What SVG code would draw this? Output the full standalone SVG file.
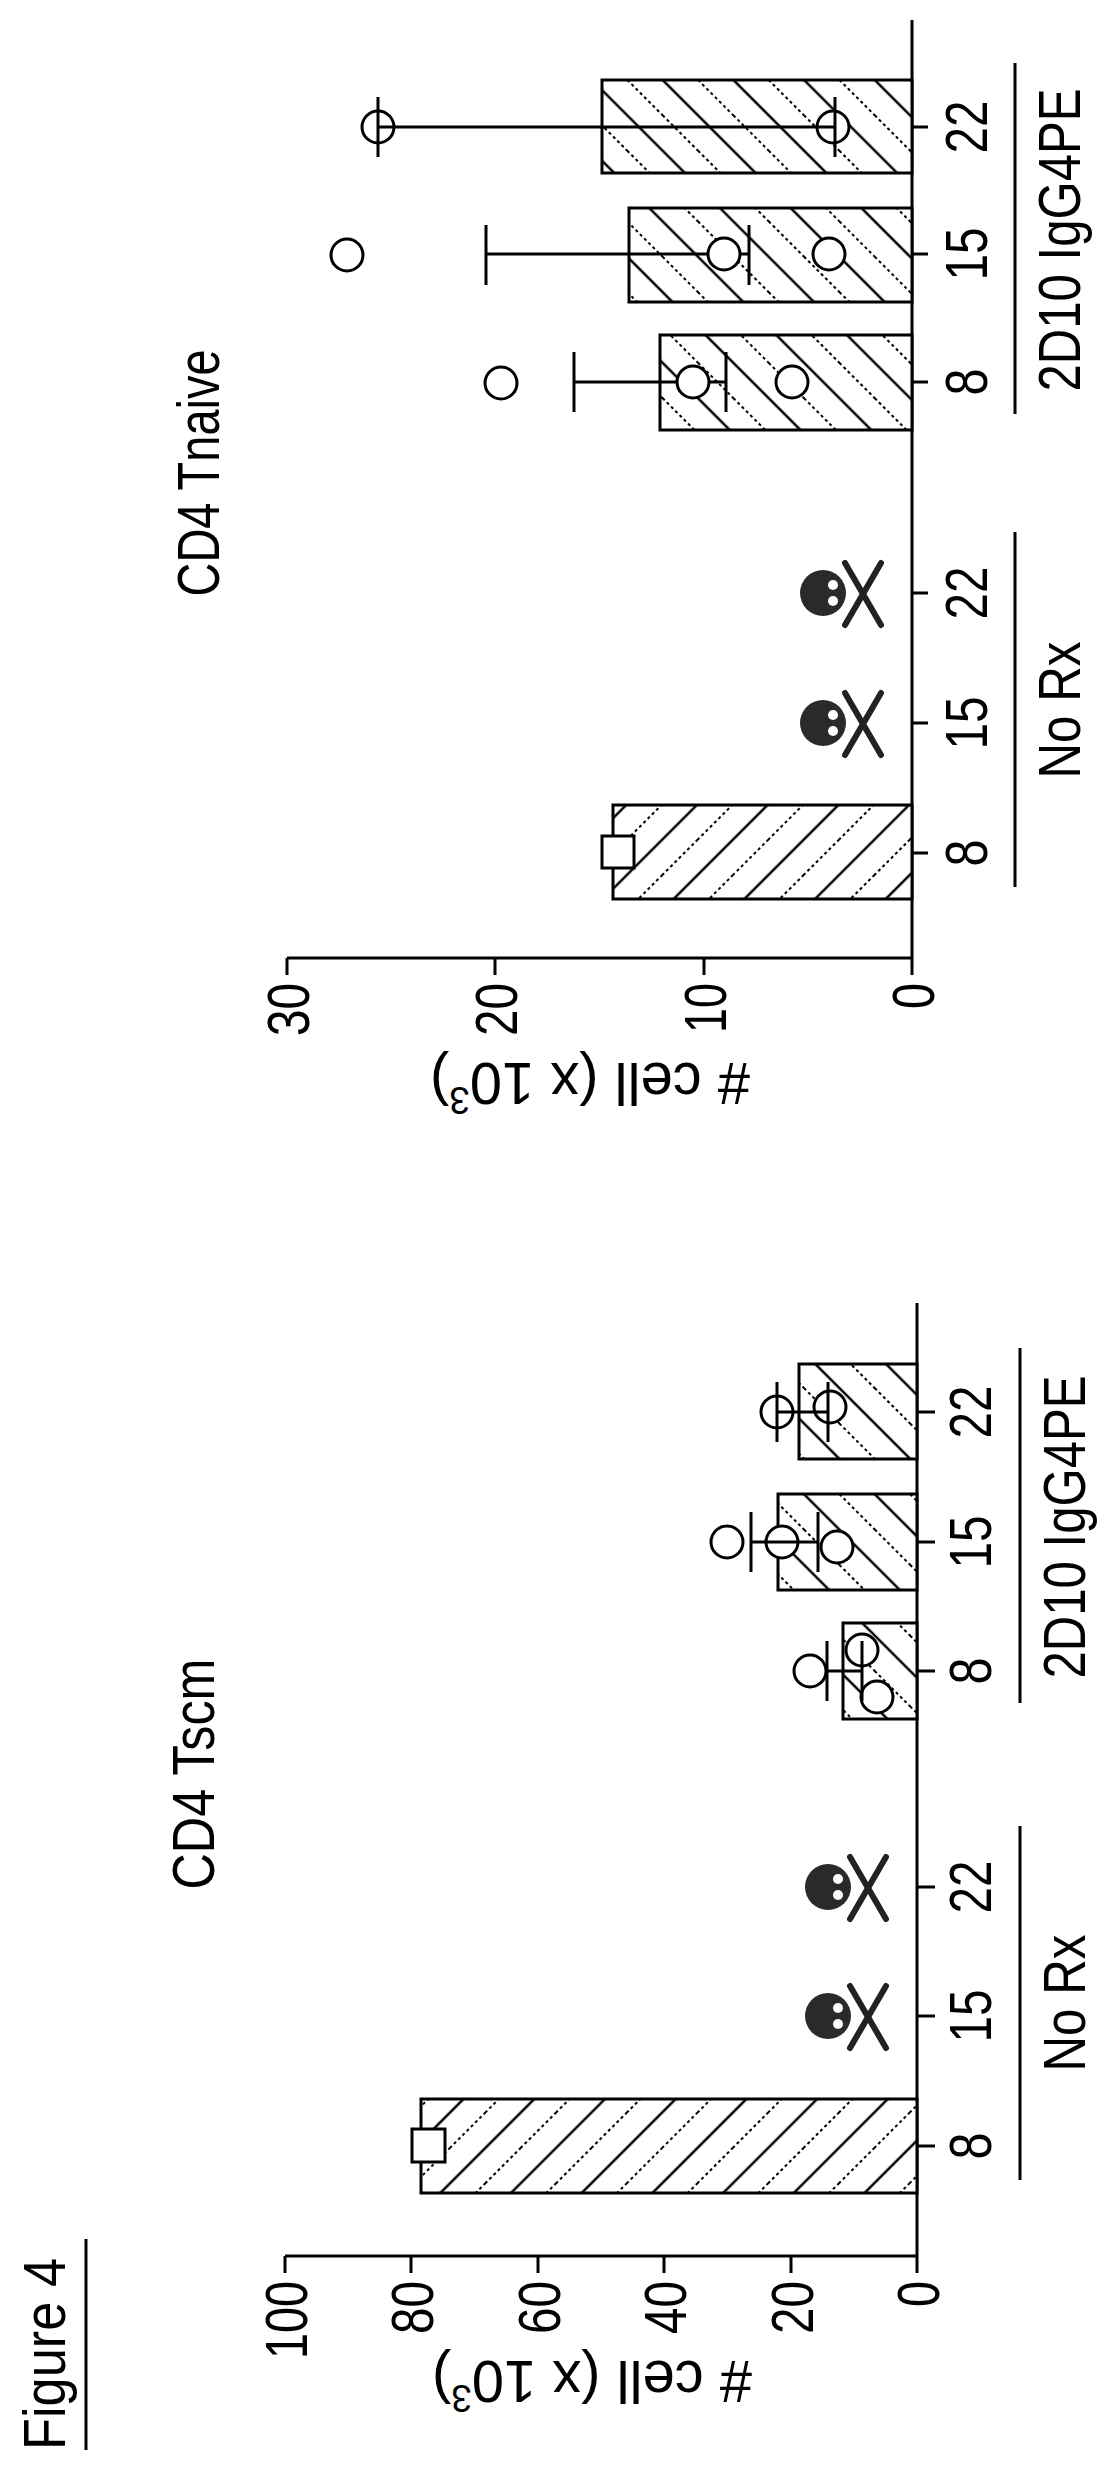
<svg xmlns="http://www.w3.org/2000/svg" width="1120" height="2466" viewBox="0 0 1120 2466">
<style>
.ax{stroke:#000;stroke-width:3;fill:none}
.bar{stroke:#000;stroke-width:3}
.pt{fill:#fff;stroke:#000;stroke-width:3}
.eb{stroke:#000;stroke-width:3;fill:none}
.t{font-family:"Liberation Sans",Arial,sans-serif;font-size:60px;fill:#000}
.bone{stroke:#222;stroke-width:6;stroke-linecap:round}
</style>
<defs>
<pattern id="hA" patternUnits="userSpaceOnUse" width="50" height="50" patternTransform="rotate(45)">
<rect width="50" height="50" fill="#fff"/>
<line x1="12" y1="0" x2="12" y2="50" stroke="#000" stroke-width="2.5"/>
<line x1="37" y1="0" x2="37" y2="50" stroke="#000" stroke-width="2" stroke-dasharray="3 3"/>
</pattern>
<pattern id="hB" patternUnits="userSpaceOnUse" width="50" height="50" patternTransform="rotate(-45)">
<rect width="50" height="50" fill="#fff"/>
<line x1="12" y1="0" x2="12" y2="50" stroke="#000" stroke-width="2.5"/>
<line x1="37" y1="0" x2="37" y2="50" stroke="#000" stroke-width="2" stroke-dasharray="3 3"/>
</pattern>
<g id="skull">
<circle cx="0" cy="0" r="23" fill="#2a2a2a"/>
<circle cx="10" cy="-8" r="5" fill="#fff"/>
<circle cx="10" cy="8" r="5" fill="#fff"/>
<line class="bone" x1="22" y1="-30" x2="58" y2="32"/>
<line class="bone" x1="22" y1="32" x2="58" y2="-30"/>
</g>
</defs>
<rect width="1120" height="2466" fill="#fff"/>

<g id="figure-title">
<text class="t" text-anchor="middle" textLength="192" lengthAdjust="spacingAndGlyphs" transform="translate(65,2354) rotate(-90)">Figure 4</text>
<line class="ax" x1="86" y1="2239" x2="86" y2="2450"/>
</g>

<g id="top-title"><text class="t" text-anchor="middle" textLength="247" lengthAdjust="spacingAndGlyphs" transform="translate(219,473) rotate(-90)">CD4 Tnaive</text></g>
<g id="top-axes">
<line class="ax" x1="912" y1="20" x2="912" y2="958"/>
<line class="ax" x1="287" y1="958" x2="912" y2="958"/>
<line class="ax" x1="287" y1="958" x2="287" y2="975"/>
<line class="ax" x1="495" y1="958" x2="495" y2="975"/>
<line class="ax" x1="704" y1="958" x2="704" y2="975"/>
<line class="ax" x1="912" y1="958" x2="912" y2="975"/>
<line class="ax" x1="912" y1="853" x2="928" y2="853"/>
<line class="ax" x1="912" y1="723" x2="928" y2="723"/>
<line class="ax" x1="912" y1="593" x2="928" y2="593"/>
<line class="ax" x1="912" y1="382" x2="928" y2="382"/>
<line class="ax" x1="912" y1="254" x2="928" y2="254"/>
<line class="ax" x1="912" y1="127" x2="928" y2="127"/>
<text class="t" text-anchor="end" textLength="53" lengthAdjust="spacingAndGlyphs" transform="translate(309,983) rotate(-90)">30</text>
<text class="t" text-anchor="end" textLength="53" lengthAdjust="spacingAndGlyphs" transform="translate(517,983) rotate(-90)">20</text>
<text class="t" text-anchor="end" textLength="50" lengthAdjust="spacingAndGlyphs" transform="translate(726,983) rotate(-90)">10</text>
<text class="t" text-anchor="end" textLength="26" lengthAdjust="spacingAndGlyphs" transform="translate(934,983) rotate(-90)">0</text>
<text class="t" text-anchor="middle" textLength="320" lengthAdjust="spacingAndGlyphs" transform="translate(590,1063) rotate(180)">#  cell  (x  10<tspan font-size="38" dy="-24">3</tspan><tspan dy="24">)</tspan></text>
<text class="t" text-anchor="middle" textLength="27" lengthAdjust="spacingAndGlyphs" transform="translate(987,853) rotate(-90)">8</text>
<text class="t" text-anchor="middle" textLength="53" lengthAdjust="spacingAndGlyphs" transform="translate(987,723) rotate(-90)">15</text>
<text class="t" text-anchor="middle" textLength="53" lengthAdjust="spacingAndGlyphs" transform="translate(987,593) rotate(-90)">22</text>
<text class="t" text-anchor="middle" textLength="27" lengthAdjust="spacingAndGlyphs" transform="translate(987,382) rotate(-90)">8</text>
<text class="t" text-anchor="middle" textLength="53" lengthAdjust="spacingAndGlyphs" transform="translate(987,254) rotate(-90)">15</text>
<text class="t" text-anchor="middle" textLength="53" lengthAdjust="spacingAndGlyphs" transform="translate(987,127) rotate(-90)">22</text>
<text class="t" text-anchor="middle" textLength="303" lengthAdjust="spacingAndGlyphs" transform="translate(1080,240) rotate(-90)">2D10  IgG4PE</text>
<text class="t" text-anchor="middle" textLength="137" lengthAdjust="spacingAndGlyphs" transform="translate(1080,710) rotate(-90)">No  Rx</text>
<line class="ax" x1="1015" y1="532" x2="1015" y2="887"/>
<line class="ax" x1="1015" y1="63" x2="1015" y2="414"/>
</g>
<g id="top-norx-8"><rect class="bar" x="613" y="805" width="299" height="94" fill="url(#hA)"/><rect class="pt" x="602" y="836" width="32" height="32"/></g>
<g id="top-norx-15"><use href="#skull" x="823" y="723"/></g>
<g id="top-norx-22"><use href="#skull" x="823" y="593"/></g>
<g id="top-2d10-8">
<rect class="bar" x="660" y="335" width="252" height="95" fill="url(#hB)"/>
<line class="eb" x1="574" y1="382" x2="726" y2="382"/><line class="eb" x1="574" y1="352" x2="574" y2="412"/><line class="eb" x1="726" y1="352" x2="726" y2="412"/>
<circle class="pt" cx="501" cy="383" r="16"/><circle class="pt" cx="693" cy="382" r="16"/><circle class="pt" cx="792" cy="382" r="16"/>
</g>
<g id="top-2d10-15">
<rect class="bar" x="629" y="208" width="283" height="94" fill="url(#hB)"/>
<line class="eb" x1="486" y1="254" x2="749" y2="254"/><line class="eb" x1="486" y1="225" x2="486" y2="285"/><line class="eb" x1="749" y1="225" x2="749" y2="285"/>
<circle class="pt" cx="347" cy="255" r="16"/><circle class="pt" cx="724" cy="254" r="16"/><circle class="pt" cx="829" cy="254" r="16"/>
</g>
<g id="top-2d10-22">
<rect class="bar" x="602" y="80" width="310" height="93" fill="url(#hB)"/>
<circle class="pt" cx="378" cy="127" r="16"/><circle class="pt" cx="833" cy="127" r="16"/>
<line class="eb" x1="378" y1="127" x2="835" y2="127"/><line class="eb" x1="378" y1="97" x2="378" y2="157"/><line class="eb" x1="835" y1="97" x2="835" y2="157"/>
</g>

<g id="bottom-title"><text class="t" text-anchor="middle" textLength="231" lengthAdjust="spacingAndGlyphs" transform="translate(214,1774) rotate(-90)">CD4 Tscm</text></g>
<g id="bottom-axes">
<line class="ax" x1="917" y1="1303" x2="917" y2="2256"/>
<line class="ax" x1="285" y1="2256" x2="917" y2="2256"/>
<line class="ax" x1="285" y1="2256" x2="285" y2="2273"/>
<line class="ax" x1="411" y1="2256" x2="411" y2="2273"/>
<line class="ax" x1="538" y1="2256" x2="538" y2="2273"/>
<line class="ax" x1="664" y1="2256" x2="664" y2="2273"/>
<line class="ax" x1="791" y1="2256" x2="791" y2="2273"/>
<line class="ax" x1="917" y1="2256" x2="917" y2="2273"/>
<line class="ax" x1="917" y1="2146" x2="935" y2="2146"/>
<line class="ax" x1="917" y1="2016" x2="935" y2="2016"/>
<line class="ax" x1="917" y1="1887" x2="935" y2="1887"/>
<line class="ax" x1="917" y1="1671" x2="935" y2="1671"/>
<line class="ax" x1="917" y1="1542" x2="935" y2="1542"/>
<line class="ax" x1="917" y1="1412" x2="935" y2="1412"/>
<text class="t" text-anchor="end" textLength="78" lengthAdjust="spacingAndGlyphs" transform="translate(307,2281) rotate(-90)">100</text>
<text class="t" text-anchor="end" textLength="53" lengthAdjust="spacingAndGlyphs" transform="translate(433,2281) rotate(-90)">80</text>
<text class="t" text-anchor="end" textLength="53" lengthAdjust="spacingAndGlyphs" transform="translate(560,2281) rotate(-90)">60</text>
<text class="t" text-anchor="end" textLength="53" lengthAdjust="spacingAndGlyphs" transform="translate(686,2281) rotate(-90)">40</text>
<text class="t" text-anchor="end" textLength="53" lengthAdjust="spacingAndGlyphs" transform="translate(813,2281) rotate(-90)">20</text>
<text class="t" text-anchor="end" textLength="26" lengthAdjust="spacingAndGlyphs" transform="translate(939,2281) rotate(-90)">0</text>
<text class="t" text-anchor="middle" textLength="320" lengthAdjust="spacingAndGlyphs" transform="translate(592,2361) rotate(180)">#  cell  (x  10<tspan font-size="38" dy="-24">3</tspan><tspan dy="24">)</tspan></text>
<text class="t" text-anchor="middle" textLength="27" lengthAdjust="spacingAndGlyphs" transform="translate(991,2146) rotate(-90)">8</text>
<text class="t" text-anchor="middle" textLength="53" lengthAdjust="spacingAndGlyphs" transform="translate(991,2016) rotate(-90)">15</text>
<text class="t" text-anchor="middle" textLength="53" lengthAdjust="spacingAndGlyphs" transform="translate(991,1887) rotate(-90)">22</text>
<text class="t" text-anchor="middle" textLength="27" lengthAdjust="spacingAndGlyphs" transform="translate(991,1671) rotate(-90)">8</text>
<text class="t" text-anchor="middle" textLength="53" lengthAdjust="spacingAndGlyphs" transform="translate(991,1542) rotate(-90)">15</text>
<text class="t" text-anchor="middle" textLength="53" lengthAdjust="spacingAndGlyphs" transform="translate(991,1412) rotate(-90)">22</text>
<text class="t" text-anchor="middle" textLength="303" lengthAdjust="spacingAndGlyphs" transform="translate(1085,1527) rotate(-90)">2D10  IgG4PE</text>
<text class="t" text-anchor="middle" textLength="137" lengthAdjust="spacingAndGlyphs" transform="translate(1085,2003) rotate(-90)">No  Rx</text>
<line class="ax" x1="1020" y1="1826" x2="1020" y2="2180"/>
<line class="ax" x1="1020" y1="1348" x2="1020" y2="1703"/>
</g>
<g id="bottom-norx-8"><rect class="bar" x="421" y="2099" width="496" height="94" fill="url(#hA)"/><rect class="pt" x="412" y="2129" width="33" height="33"/></g>
<g id="bottom-norx-15"><use href="#skull" x="828" y="2016"/></g>
<g id="bottom-norx-22"><use href="#skull" x="828" y="1887"/></g>
<g id="bottom-2d10-8">
<rect class="bar" x="843" y="1623" width="74" height="96" fill="url(#hB)"/>
<circle class="pt" cx="810" cy="1671" r="16"/><circle class="pt" cx="862" cy="1650" r="16"/><circle class="pt" cx="877" cy="1697" r="16"/>
<line class="eb" x1="827" y1="1671" x2="862" y2="1671"/><line class="eb" x1="827" y1="1641" x2="827" y2="1701"/><line class="eb" x1="862" y1="1641" x2="862" y2="1701"/>
</g>
<g id="bottom-2d10-15">
<rect class="bar" x="778" y="1494" width="139" height="96" fill="url(#hB)"/>
<circle class="pt" cx="727" cy="1542" r="16"/><circle class="pt" cx="782" cy="1542" r="16"/><circle class="pt" cx="837" cy="1547" r="16"/>
<line class="eb" x1="751" y1="1542" x2="818" y2="1542"/><line class="eb" x1="751" y1="1512" x2="751" y2="1572"/><line class="eb" x1="818" y1="1512" x2="818" y2="1572"/>
</g>
<g id="bottom-2d10-22">
<rect class="bar" x="799" y="1364" width="118" height="95" fill="url(#hB)"/>
<circle class="pt" cx="777" cy="1412" r="16"/><circle class="pt" cx="830" cy="1407" r="16"/>
<line class="eb" x1="777" y1="1412" x2="828" y2="1412"/><line class="eb" x1="777" y1="1382" x2="777" y2="1442"/><line class="eb" x1="828" y1="1382" x2="828" y2="1442"/>
</g>
</svg>
